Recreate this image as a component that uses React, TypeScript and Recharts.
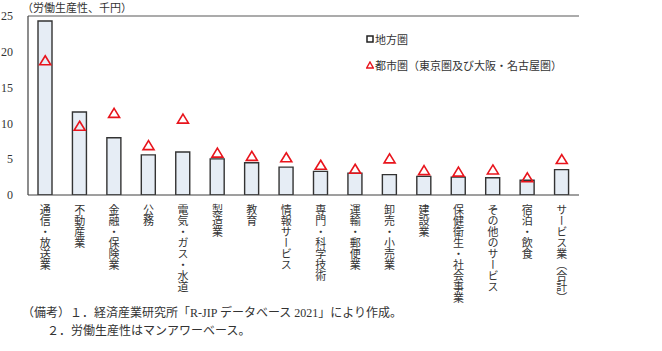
import React from 'react';
import { ComposedChart, Bar, Scatter, XAxis, YAxis, ReferenceLine } from 'recharts';

const categories = [
  '通信・放送業', '不動産業', '金融・保険業', '公務', '電気・ガス・水道', '製造業', '教育', '情報サービス',
  '専門・科学技術', '運輸・郵便業', '卸売・小売業', '建設業', '保健衛生・社会事業', 'その他のサービス', '宿泊・飲食', 'サービス業（合計）',
];
// 地方圏
const regional = [24.3, 11.6, 8.0, 5.6, 6.0, 5.05, 4.5, 3.9, 3.3, 3.05, 2.85, 2.6, 2.5, 2.4, 2.05, 3.55];
// 都市圏（東京圏及び大阪・名古屋圏）
const urban = [18.75, 9.6, 11.4, 6.9, 10.6, 5.85, 5.4, 5.2, 4.15, 3.6, 5.05, 3.4, 3.2, 3.5, 2.4, 4.95];
const yTicks = [0, 5, 10, 15, 20, 25];

const data = categories.map((name, i) => ({ name, regional: regional[i], urban: urban[i] }));

const FONT = '"Liberation Serif", "Noto Sans CJK JP", serif';
const JP = '"Noto Sans CJK JP", sans-serif';
const TEXT = '#333';
const RED = '#e8141c';

const Triangle = (props: any) => {
  const { cx, cy } = props;
  if (cx == null || cy == null) return null;
  return (
    <polygon
      points={`${cx},${cy - 5} ${cx + 5.5},${cy + 4} ${cx - 5.5},${cy + 4}`}
      fill="none"
      stroke={RED}
      strokeWidth={1.6}
    />
  );
};

const VerticalTick = (props: any) => {
  const { x, y, payload } = props;
  return (
    <text
      x={x}
      y={y + 1}
      fontSize={11}
      fill={TEXT}
      fontFamily={JP}
      style={{ writingMode: 'vertical-rl' }}
    >
      {payload.value}
    </text>
  );
};

export default function App() {
  return (
    <div style={{ position: 'absolute', left: 0, top: 0, width: 662, height: 351, background: '#fff' }}>
      <ComposedChart width={662} height={351} data={data} margin={{ top: 16, right: 83, left: 0, bottom: 0 }}>
        <XAxis
          dataKey="name"
          height={156}
          interval={0}
          tickLine={false}
          axisLine={{ stroke: '#404040', strokeWidth: 1.2 }}
          tick={<VerticalTick />}
        />
        <YAxis
          domain={[0, 25]}
          ticks={yTicks}
          width={28}
          tickLine={false}
          axisLine={{ stroke: '#404040', strokeWidth: 1.2 }}
          tickMargin={9}
          tick={{ fontSize: 12, fill: TEXT, fontFamily: FONT }}
          allowDataOverflow
        />
        <YAxis
          yAxisId="right"
          orientation="right"
          domain={[0, 25]}
          ticks={yTicks}
          width={0}
          tick={false}
          tickLine={false}
          axisLine={{ stroke: '#595959', strokeWidth: 1.2 }}
        />
        <ReferenceLine y={25} stroke="#595959" strokeWidth={1.2} />
        <Bar
          dataKey="regional"
          name="地方圏"
          fill="#e6edf5"
          stroke="#333"
          strokeWidth={1.4}
          barSize={14}
          isAnimationActive={false}
        />
        <Scatter
          dataKey="urban"
          name="都市圏（東京圏及び大阪・名古屋圏）"
          yAxisId="right"
          shape={<Triangle />}
          isAnimationActive={false}
        />
      </ComposedChart>
      <div style={{ position: 'absolute', left: 366, top: 32, fontFamily: JP, fontSize: 11, color: TEXT, lineHeight: '14px' }}>
        <div style={{ display: 'flex', alignItems: 'center', marginBottom: 12 }}>
          <svg width={8} height={8} style={{ marginRight: 1 }}>
            <rect x={1} y={1} width={6} height={6} fill="none" stroke="#222" strokeWidth={1.5} />
          </svg>
          <span>地方圏</span>
        </div>
        <div style={{ display: 'flex', alignItems: 'center' }}>
          <svg width={8} height={8} style={{ marginRight: 1 }}>
            <polygon points="4,1 7.3,7 0.7,7" fill="none" stroke={RED} strokeWidth={1.4} />
          </svg>
          <span>都市圏（東京圏及び大阪・名古屋圏）</span>
        </div>
      </div>
      <div style={{ position: 'absolute', left: 22, top: 1, fontFamily: JP, fontSize: 11, color: TEXT, lineHeight: '12px' }}>
        （労働生産性、千円）
      </div>
      <div style={{ position: 'absolute', left: 22, top: 304, fontFamily: FONT, fontSize: 12, color: TEXT, lineHeight: '18px', whiteSpace: 'pre' }}>
        <div>（備考）１．経済産業研究所「R-JIP データベース 2021」により作成。</div>
        <div style={{ paddingLeft: 25 }}>２．労働生産性はマンアワーベース。</div>
      </div>
    </div>
  );
}
